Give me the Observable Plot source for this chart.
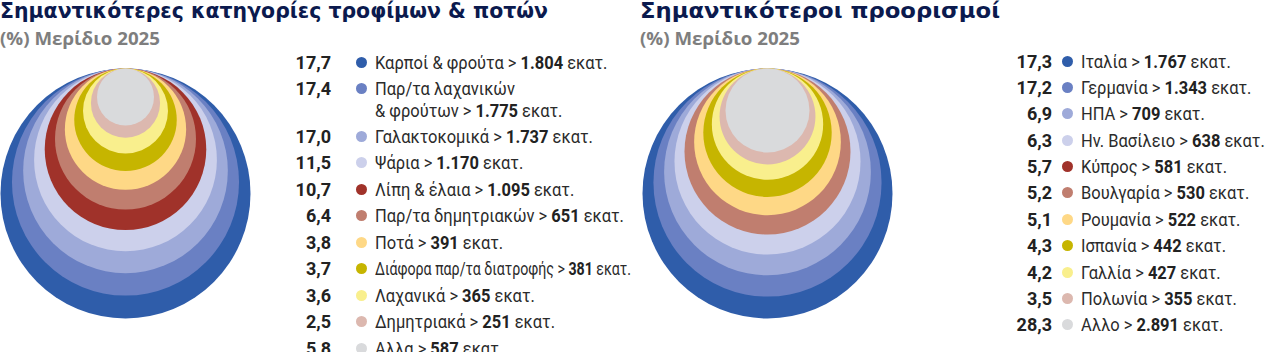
<!DOCTYPE html>
<html>
<head>
<meta charset="utf-8">
<script src="https://cdn.jsdelivr.net/npm/d3@7"></script>
<script src="https://cdn.jsdelivr.net/npm/@observablehq/plot@0.6"></script>
<style>
  html, body { margin: 0; padding: 0; background: #ffffff; }
  body { width: 1280px; height: 352px; overflow: hidden; position: relative; }
  .panel { position: absolute; top: 0; width: 640px; height: 352px; }
  .title { position: absolute; left: 0; top: -2px; margin: 0; white-space: nowrap; line-height: 1;
           font: 700 22px "DejaVu Sans", Roboto, sans-serif; color: #0b1a4e; transform-origin: 0 50%; }
  .subtitle { position: absolute; left: 0; top: 26px; white-space: nowrap; line-height: 1;
              font: 700 17.5px "Open Sans", Roboto, sans-serif; color: #7e7e7e; transform-origin: 0 50%; }
  .chart { position: absolute; left: 0; top: 52px; }
  .legend { position: absolute; left: 0; width: 640px; }
  .row { position: relative; }
  .num { position: absolute; left: 0; text-align: right; top: 0; line-height: 21px;
         font: 700 18px Roboto, sans-serif; color: #222; }
  .dot { position: absolute; width: 11px; height: 11px; border-radius: 50%; top: 5px; }
  .lab { position: absolute; top: 0; line-height: 21px; white-space: nowrap; transform-origin: 0 50%;
         font: 400 18.5px Roboto, sans-serif; color: #2b2b2b; }
  .lab b { font-weight: 700; color: #222; }
</style>
</head>
<body>
<div id="left" class="panel" style="left:0"></div>
<div id="right" class="panel" style="left:640px"></div>
<script>
// ---------------- data ----------------
const foodTitle = "Σημαντικότερες κατηγορίες τροφίμων & ποτών";
const destTitle = "Σημαντικότεροι προορισμοί";
const subtitleText = "(%) Μερίδιο 2025";

const foodCategories = ["Καρποί & φρούτα", "Παρ/τα λαχανικών\n& φρούτων", "Γαλακτοκομικά", "Ψάρια", "Λίπη & έλαια",
  "Παρ/τα δημητριακών", "Ποτά", "Διάφορα παρ/τα διατροφής", "Λαχανικά", "Δημητριακά", "Αλλα"];
const foodShares = [17.7, 17.4, 17.0, 11.5, 10.7, 6.4, 3.8, 3.7, 3.6, 2.5, 5.8];
const foodValues = [1804, 1775, 1737, 1170, 1095, 651, 391, 381, 365, 251, 587];

const destCategories = ["Ιταλία", "Γερμανία", "ΗΠΑ", "Ην. Βασίλειο", "Κύπρος", "Βουλγαρία", "Ρουμανία",
  "Ισπανία", "Γαλλία", "Πολωνία", "Αλλο"];
const destShares = [17.3, 17.2, 6.9, 6.3, 5.7, 5.2, 5.1, 4.3, 4.2, 3.5, 28.3];
const destValues = [1767, 1343, 709, 638, 581, 530, 522, 442, 427, 355, 2891];
// the reference drawing shows no ring for this destination
const destNotDrawn = ["Κύπρος"];

const palette = ["#2f5daa", "#6a80c3", "#9eaad9", "#ccd0eb", "#a0322a", "#c07e6f",
  "#fed886", "#c6b500", "#f9ef8d", "#dcb8af", "#d9dadc"];

// ---------------- helpers ----------------
const loc = d3.formatLocale({decimal: ",", thousands: ".", grouping: [3], currency: ["", ""]});
const fShare = loc.format(".1f");
const fValue = loc.format(",d");

function fitWidth(el, target) {
  const w = el.getBoundingClientRect().width;
  if (w > 0) el.style.transform = `scaleX(${target / w})`;
}

function panel(el, cfg) {
  const t = document.createElement("div"); t.className = "title"; t.textContent = cfg.title; el.appendChild(t);
  fitWidth(t, cfg.titleWidth);
  const s = document.createElement("div"); s.className = "subtitle"; s.textContent = subtitleText; el.appendChild(s);
  fitWidth(s, 160);

  // rings: concentric circles touching at the top point
  const rings = cfg.categories
    .map((c, i) => ({cat: c, color: palette[i]}))
    .filter(d => !(cfg.skip || []).includes(d.cat));
  const n = rings.length;
  rings.forEach((d, i) => d.rank = n - 1 - i);
  const ringScale = Plot.scale({r: {type: "pow", exponent: 1.2, domain: [0, n - 1], range: [cfg.r0, cfg.R]}});
  rings.forEach(d => d.rad = ringScale.apply(d.rank));

  const R = cfg.R;
  const chart = Plot.plot({
    width: 300, height: 300,
    margin: 0,
    x: {domain: [-R, R], range: [cfg.cx - R, cfg.cx + R], axis: null},
    y: {domain: [0, 2 * R], range: [cfg.top, cfg.top + 2 * R], axis: null},
    r: {type: "identity"},
    color: {type: "identity"},
    marks: [
      Plot.dot(rings, {x: () => 0, y: "rad", r: "rad", fill: "color", stroke: null})
    ]
  });
  chart.classList.add("chart");
  el.appendChild(chart);

  // legend
  const lg = document.createElement("div"); lg.className = "legend";
  lg.style.top = cfg.legendTop + "px";
  el.appendChild(lg);
  cfg.categories.forEach((c, i) => {
    const lines = c.split("\n");
    const row = document.createElement("div"); row.className = "row";
    row.style.height = (lines.length * 21 + cfg.gap) + "px";
    const num = document.createElement("div"); num.className = "num";
    num.style.width = cfg.numRight + "px"; num.textContent = fShare(cfg.shares[i]);
    const dot = document.createElement("div"); dot.className = "dot";
    dot.style.left = (cfg.dotX - 5.5) + "px"; dot.style.background = palette[i];
    const lab = document.createElement("div"); lab.className = "lab";
    lab.style.left = cfg.labX + "px";
    const pre = lines.slice(0, -1).map(l => l + "<br>").join("");
    lab.innerHTML = pre + lines[lines.length - 1] + " &gt; <b>" + fValue(cfg.values[i]) + "</b> εκατ.";
    row.appendChild(num); row.appendChild(dot); row.appendChild(lab);
    lg.appendChild(row);
    const w = lab.getBoundingClientRect().width;
    const k = Math.min(0.89, cfg.labMax / w);
    lab.style.transform = `scaleX(${k})`;
  });
}

panel(document.getElementById("left"), {
  title: foodTitle, titleWidth: 548, categories: foodCategories, shares: foodShares, values: foodValues,
  cx: 125, top: 16, r0: 28.5, R: 125,
  legendTop: 51.5, gap: 5.5, numRight: 331, dotX: 361, labX: 375, labMax: 256
});
panel(document.getElementById("right"), {
  title: destTitle, titleWidth: 360, categories: destCategories, shares: destShares, values: destValues, skip: destNotDrawn,
  cx: 127, top: 16, r0: 42, R: 125,
  legendTop: 50.5, gap: 5.4, numRight: 412, dotX: 427, labX: 441, labMax: 240
});
</script>
</body>
</html>
